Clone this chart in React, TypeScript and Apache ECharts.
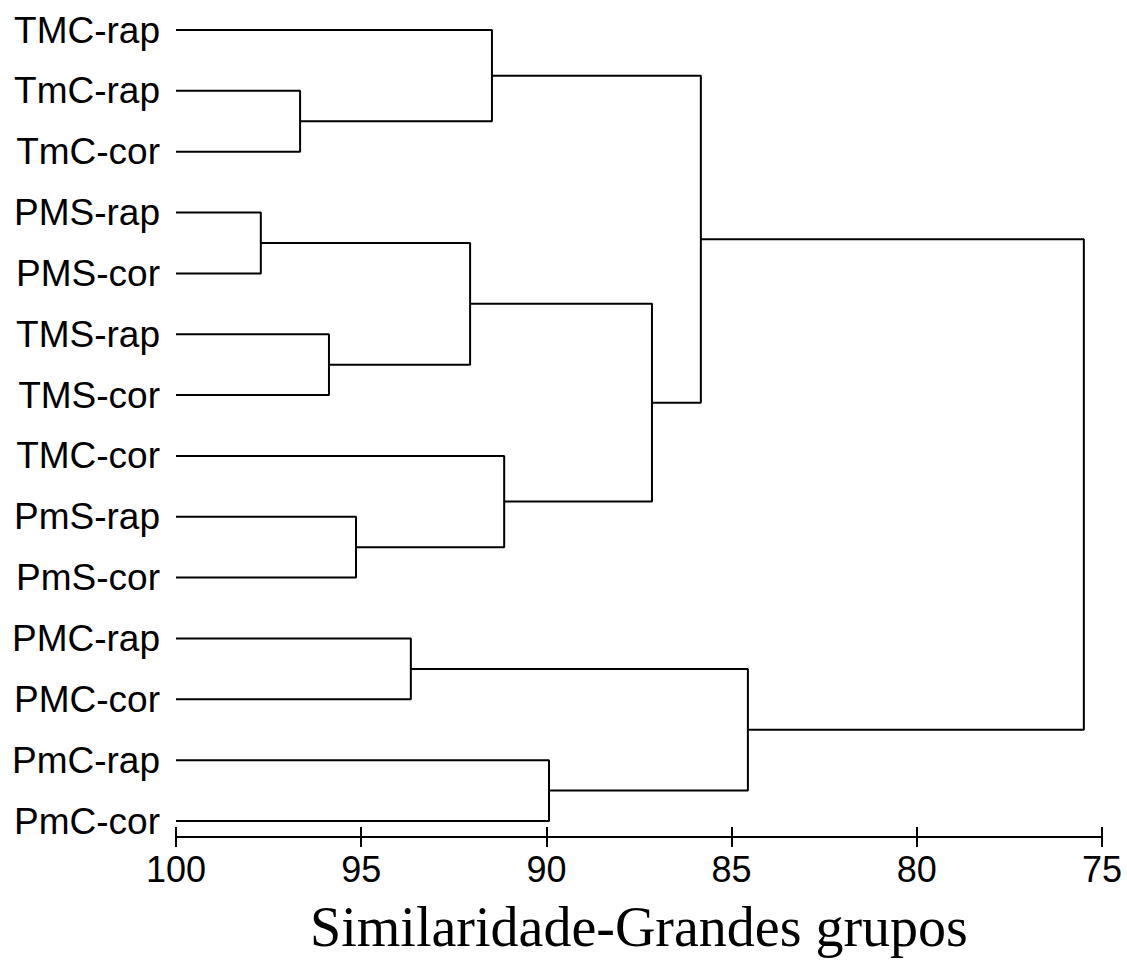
import React, { useEffect, useRef } from "react";
import * as echarts from "echarts";

const leaves = [
  "TMC-rap", "TmC-rap", "TmC-cor", "PMS-rap", "PMS-cor", "TMS-rap", "TMS-cor",
  "TMC-cor", "PmS-rap", "PmS-cor", "PMC-rap", "PMC-cor", "PmC-rap", "PmC-cor",
];

// merges: [childA, childB, similarity]; node ids 0..13 leaves, 14.. merges in order
const mergeA = [1, 0, 3, 5, 16, 8, 7, 18, 15, 10, 12, 23, 22];
const mergeB = [2, 14, 4, 6, 17, 9, 19, 20, 21, 11, 13, 24, 25];
const mergeH = [96.65, 91.47, 97.71, 95.87, 92.06, 95.14, 91.14, 87.15, 85.83, 93.66, 89.93, 84.56, 75.49];

const xTicks = [75, 100, 5];
const axisTitle = "Similaridade-Grandes grupos";

export default function App() {
  const ref = useRef<HTMLDivElement>(null);
  useEffect(() => {
    if (!ref.current) return;
    const chart = echarts.init(ref.current, undefined, { renderer: "svg" });
    const nodeH: number[] = leaves.map(() => 100);
    const nodeY: number[] = leaves.map((_, i) => i);
    const series: any[] = [];
    for (let k = 0; k < mergeH.length; k++) {
      const a = mergeA[k], b = mergeB[k], h = mergeH[k];
      series.push({
        type: "line",
        symbol: "none",
        silent: true,
        lineStyle: { color: "#000", width: 2 },
        data: [
          [nodeH[a], nodeY[a]],
          [h, nodeY[a]],
          [h, nodeY[b]],
          [nodeH[b], nodeY[b]],
        ],
      });
      nodeH.push(h);
      nodeY.push((nodeY[a] + nodeY[b]) / 2);
    }
    const baseX = {
      type: "value",
      inverse: true,
      min: xTicks[0],
      max: xTicks[1],
      interval: xTicks[2],
      position: "bottom",
      offset: 16,
      splitLine: { show: false },
    };
    chart.setOption({
      animation: false,
      grid: { left: 176, right: 25, top: 30, bottom: 139, outerBoundsMode: "none", containLabel: false },
      xAxis: [
        {
          ...baseX,
          axisLine: { show: true, onZero: false, lineStyle: { color: "#000", width: 2 } },
          axisTick: { show: true, inside: false, length: 10, lineStyle: { color: "#000", width: 2 } },
          axisLabel: {
            show: true,
            color: "#000",
            fontSize: 36,
            fontFamily: "Liberation Sans, Arial, sans-serif",
            margin: 14,
          },
          name: axisTitle,
          nameLocation: "middle",
          nameGap: 62,
          nameTextStyle: {
            color: "#000",
            fontSize: 56,
            fontFamily: "Liberation Serif, Times New Roman, serif",
          },
        },
        {
          ...baseX,
          axisLine: { show: false, onZero: false },
          axisTick: { show: true, inside: true, length: 10, lineStyle: { color: "#000", width: 2 } },
          axisLabel: { show: false },
        },
      ],
      yAxis: {
        type: "value",
        inverse: true,
        min: 0,
        max: leaves.length - 1,
        interval: 1,
        axisLine: { show: false },
        axisTick: { show: false },
        splitLine: { show: false },
        axisLabel: {
          color: "#000",
          fontSize: 37,
          fontFamily: "Liberation Sans, Arial, sans-serif",
          margin: 16,
          formatter: (v: number) => (Number.isInteger(v) ? leaves[v] : ""),
        },
      },
      series,
    });
    return () => chart.dispose();
  }, []);
  return (
    <div
      ref={ref}
      style={{ position: "fixed", left: 0, top: 0, width: 1127, height: 960, background: "#fff" }}
    />
  );
}
